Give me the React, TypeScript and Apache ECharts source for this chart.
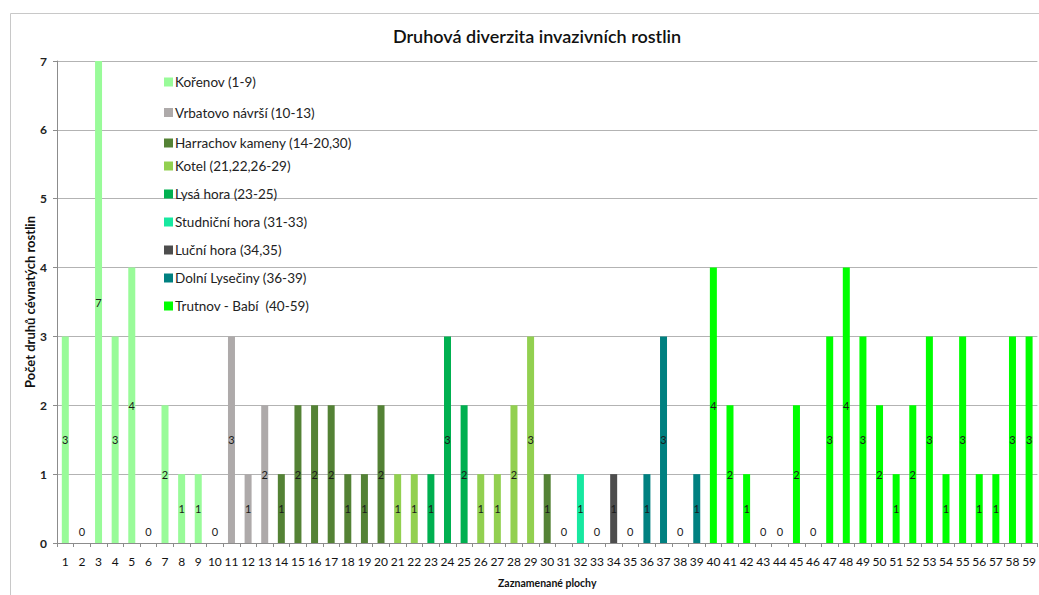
import React, { useEffect, useRef } from "react";
import * as echarts from "echarts";

const plots: string[] = Array.from({ length: 59 }, (_, i) => String(i + 1));

const counts: number[] = [
  3, 0, 7, 3, 4, 0, 2, 1, 1, 0,
  3, 1, 2, 1, 2, 2, 2, 1, 1, 2,
  1, 1, 1, 3, 2, 1, 1, 2, 3, 1,
  0, 1, 0, 1, 0, 1, 3, 0, 1, 4,
  2, 1, 0, 0, 2, 0, 3, 4, 3, 2,
  1, 2, 3, 1, 3, 1, 1, 3, 3,
];

const groupNames: string[] = [
  "Kořenov (1-9)",
  "Vrbatovo návrší (10-13)",
  "Harrachov kameny (14-20,30)",
  "Kotel (21,22,26-29)",
  "Lysá hora (23-25)",
  "Studniční hora (31-33)",
  "Luční hora (34,35)",
  "Dolní Lysečiny (36-39)",
  "Trutnov - Babí  (40-59)",
];

const groupColors: string[] = [
  "#99fb99",
  "#aeaaaa",
  "#548235",
  "#92d050",
  "#00b050",
  "#17e8a0",
  "#4d4d4d",
  "#008080",
  "#00ff00",
];

const groupPlots: number[][] = [
  [1, 2, 3, 4, 5, 6, 7, 8, 9],
  [10, 11, 12, 13],
  [14, 15, 16, 17, 18, 19, 20, 30],
  [21, 22, 26, 27, 28, 29],
  [23, 24, 25],
  [31, 32, 33],
  [34, 35],
  [36, 37, 38, 39],
  [40, 41, 42, 43, 44, 45, 46, 47, 48, 49, 50, 51, 52, 53, 54, 55, 56, 57, 58, 59],
];

const FONT = "Lato, 'Open Sans', sans-serif";

const legendText = { fontFamily: FONT, fontSize: 13.5, color: "#222", padding: [0, 0, 0, -3] };

export default function App() {
  const ref = useRef<HTMLDivElement>(null);

  useEffect(() => {
    if (!ref.current) return;
    const chart = echarts.init(ref.current, undefined, { renderer: "svg" });

    const series = groupNames.map((name, gi) => ({
      name,
      type: "bar",
      stack: "all",
      barWidth: 7,
      itemStyle: { color: groupColors[gi] },
      label: {
        show: true,
        position: "inside",
        color: "#1a1a1a",
        fontSize: 11,
        fontFamily: FONT,
      },
      data: plots.map((p, i) => {
        if (!groupPlots[gi].includes(i + 1)) return "-";
        const v = counts[i];
        if (v === 0) {
          return {
            value: 0,
            label: { show: true, position: "top", distance: 6, color: "#1a1a1a" },
          };
        }
        return v;
      }),
    }));

    chart.setOption({
      animation: false,
      backgroundColor: "#ffffff",
      title: {
        text: "Druhová diverzita invazivních rostlin",
        left: 532,
        top: 22,
        textAlign: "center",
        textStyle: {
          fontFamily: FONT,
          fontSize: 18,
          fontWeight: 600,
          color: "#111",
        },
      },
      graphic: [
        {
          type: "rect",
          shape: { x: 10.5, y: 13.5, width: 1060, height: 620 },
          style: { fill: "none", stroke: "#c8c8c8", lineWidth: 1 },
          silent: true,
          z: -1,
        },
      ],
      legend: [
        {
          data: groupNames.slice(0, 3),
          orient: "vertical",
          left: 159,
          top: 70,
          itemWidth: 9,
          itemHeight: 9,
          itemGap: 16.5,
          icon: "rect",
          textStyle: legendText,
          selectedMode: false,
        },
        {
          data: groupNames.slice(3),
          orient: "vertical",
          left: 159,
          top: 154,
          itemWidth: 9,
          itemHeight: 9,
          itemGap: 14,
          icon: "rect",
          textStyle: legendText,
          selectedMode: false,
        },
      ],
      grid: { left: 57, right: -5, top: 61, bottom: 52 },
      xAxis: {
        type: "category",
        data: plots,
        name: "Zaznamenané plochy",
        nameLocation: "middle",
        nameGap: 34,
        nameMoveOverlap: false,
        nameTextStyle: { fontFamily: FONT, fontSize: 10.5, fontWeight: "bold", color: "#111" },
        axisLine: { lineStyle: { color: "#8c8c8c" } },
        axisTick: { show: true, length: 4, lineStyle: { color: "#8c8c8c" } },
        axisLabel: { interval: 0, fontFamily: FONT, fontSize: 12, color: "#111", margin: 12 },
      },
      yAxis: {
        type: "value",
        min: 0,
        max: 7,
        interval: 1,
        name: "Počet druhů cévnatých rostlin",
        nameLocation: "middle",
        nameGap: 21,
        nameMoveOverlap: false,
        nameTextStyle: { fontFamily: FONT, fontSize: 13, fontWeight: "bold", color: "#111" },
        axisLine: { show: true, lineStyle: { color: "#8c8c8c" } },
        axisTick: { show: true, length: 4, lineStyle: { color: "#8c8c8c" } },
        axisLabel: { fontFamily: FONT, fontSize: 12, fontWeight: "bold", color: "#222", margin: 10 },
        splitLine: { lineStyle: { color: "#b3b3b3" } },
      },
      series,
    });

    return () => chart.dispose();
  }, []);

  return (
    <div
      ref={ref}
      style={{ position: "fixed", left: 0, top: 0, width: 1039, height: 595, overflow: "hidden" }}
    />
  );
}
